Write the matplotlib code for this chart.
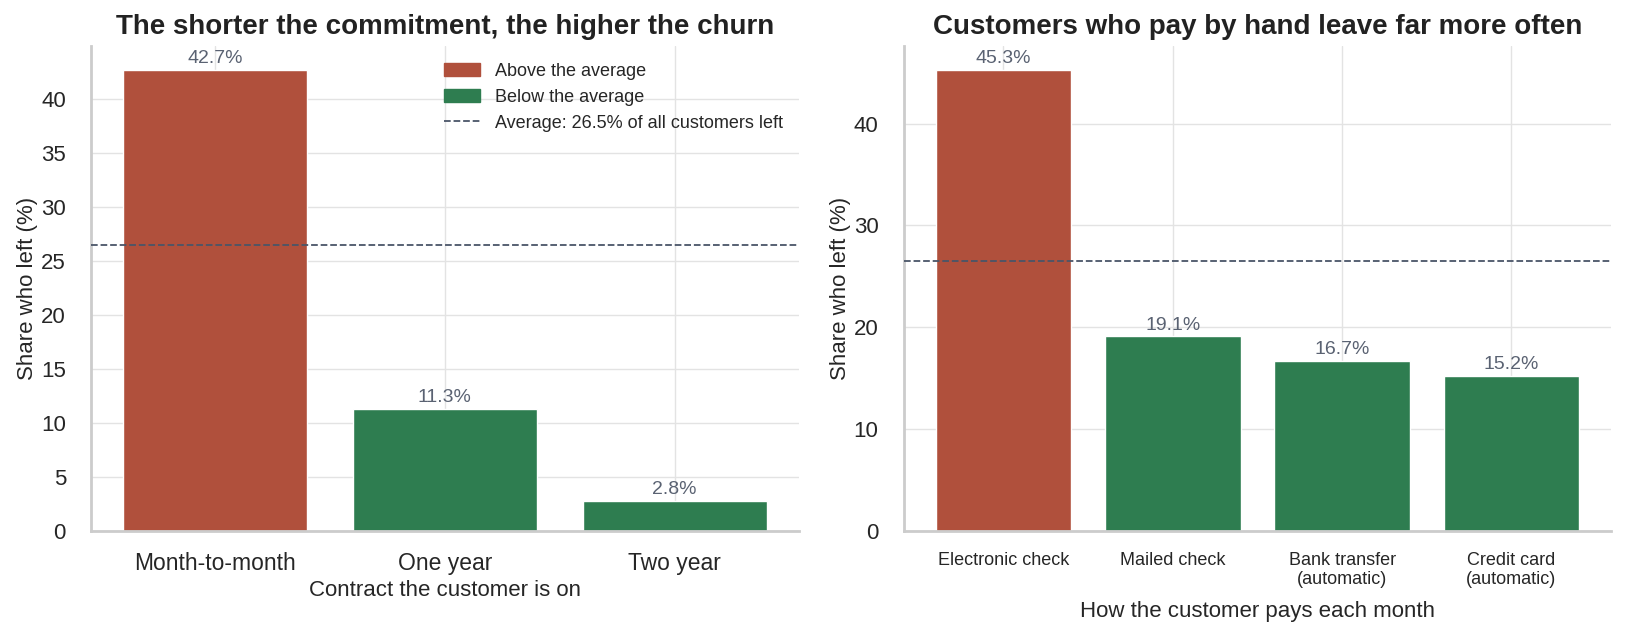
import matplotlib
matplotlib.use("Agg")
import matplotlib.pyplot as plt
import seaborn as sns
from matplotlib.patches import Patch
from matplotlib.lines import Line2D

contracts = ["Month-to-month", "One year", "Two year"]
contract_churn = [42.7, 11.3, 2.8]
payments = ["Electronic check", "Mailed check", "Bank transfer\n(automatic)", "Credit card\n(automatic)"]
payment_churn = [45.3, 19.1, 16.7, 15.2]
average = 26.5

RED = "#b0503c"
GREEN = "#2e7d50"
AVG = "#4a5568"
LABEL = "#5a6272"

sns.set_theme(style="whitegrid")
plt.rcParams['font.family'] = ['Liberation Sans', 'DejaVu Sans']
plt.rcParams['axes.edgecolor'] = '#cccccc'
plt.rcParams['grid.color'] = '#e3e3e3'

fig, axes = plt.subplots(1, 2, figsize=(16.25, 6.36), dpi=100)

def draw(ax, cats, vals, title, xlabel, tick_size, xlabelpad):
    colors = [RED if v > average else GREEN for v in vals]
    bars = ax.bar(range(len(cats)), vals, color=colors, width=0.8, zorder=2)
    ax.axhline(average, color=AVG, linestyle="--", linewidth=1.3, zorder=3)
    for b, v in zip(bars, vals):
        ax.text(b.get_x() + b.get_width() / 2, v + max(vals) * 0.006, f"{v}%",
                ha="center", va="bottom", fontsize=14, color=LABEL)
    ax.set_xticks(range(len(cats)))
    ax.set_xticklabels(cats, fontsize=tick_size)
    ax.tick_params(axis='y', labelsize=16, pad=12)
    ax.tick_params(axis='x', pad=9)
    ax.set_ylim(0, max(vals) * 1.05)
    ax.set_ylabel("Share who left (%)", fontsize=16, labelpad=2)
    ax.set_xlabel(xlabel, fontsize=16, labelpad=xlabelpad)
    ax.set_title(title, fontsize=20, fontweight="bold", color="#222222", pad=9)
    ax.spines['top'].set_visible(False)
    ax.spines['right'].set_visible(False)
    ax.spines['left'].set_linewidth(2)
    ax.spines['bottom'].set_linewidth(2)

draw(axes[0], contracts, contract_churn, "The shorter the commitment, the higher the churn",
     "Contract the customer is on", 16.5, 4)
draw(axes[1], payments, payment_churn, "Customers who pay by hand leave far more often",
     "How the customer pays each month", 13, 9)

handles = [Patch(color=RED, label="Above the average"),
           Patch(color=GREEN, label="Below the average"),
           Line2D([0], [0], color=AVG, linestyle="--", linewidth=1.3,
                  label=f"Average: {average}% of all customers left")]
axes[0].legend(handles=handles, loc="upper right", frameon=False, fontsize=13)

fig.subplots_adjust(left=0.056, right=0.9916, top=0.927, bottom=0.165, wspace=0.148)
fig.savefig("out.png")
